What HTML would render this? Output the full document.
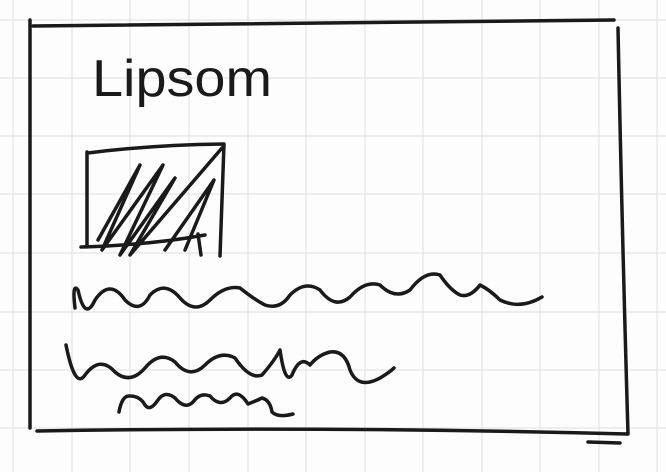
<!DOCTYPE html>
<html><head><meta charset="utf-8"><style>
html,body{margin:0;padding:0;background:#fff}
svg{display:block}
</style></head><body>
<svg width="666" height="472" viewBox="0 0 666 472">
<rect width="666" height="472" fill="#fdfdfd"/>
<g stroke="#e0e0e0" stroke-width="1">
<line x1="0" y1="78" x2="666" y2="78"/><line x1="0" y1="136" x2="666" y2="136"/>
<line x1="0" y1="194" x2="666" y2="194"/><line x1="0" y1="253" x2="666" y2="253"/>
<line x1="0" y1="312" x2="666" y2="312"/><line x1="0" y1="370" x2="666" y2="370"/>
<line x1="0" y1="428" x2="666" y2="428"/><line x1="0" y1="20" x2="666" y2="20"/>
<line x1="13" y1="0" x2="13" y2="472"/><line x1="72" y1="0" x2="72" y2="472"/>
<line x1="130" y1="0" x2="130" y2="472"/><line x1="189" y1="0" x2="189" y2="472"/>
<line x1="248" y1="0" x2="248" y2="472"/><line x1="306" y1="0" x2="306" y2="472"/>
<line x1="365" y1="0" x2="365" y2="472"/><line x1="423" y1="0" x2="423" y2="472"/>
<line x1="482" y1="0" x2="482" y2="472"/><line x1="540" y1="0" x2="540" y2="472"/>
<line x1="599" y1="0" x2="599" y2="472"/><line x1="657" y1="0" x2="657" y2="472"/>
</g>
<g fill="none" stroke="#1a1a1a" stroke-width="3.5" stroke-linecap="round" stroke-linejoin="round">
<path d="M33 26 Q300 22 614 20"/>
<path d="M30 20 L30 428"/>
<path d="M618 28 Q622 230 628 434"/>
<path d="M37 431 Q330 426 627 434 M588 442 L620 443"/>
<g>
<path d="M87 152 L87 247 M88 153 Q150 145 223 144 M224 144 L220 256 M81 247 Q150 245 205 235 M198 234 L201 255"/>
<path d="M98 240 L140 165 L102 250 L163 165 L120 255 L175 178 L130 255 L222 148 M165 250 L214 180 L185 250"/>
</g>
<path d="M75 308 Q72 282 78 290 Q85 322 95 300 Q110 278 125 300 Q140 315 150 295 Q165 280 180 298 Q195 315 210 300 Q225 285 240 288 Q255 300 265 305 Q280 310 290 295 Q305 280 320 290 Q335 310 350 297 Q365 280 380 285 Q395 300 410 290 Q425 270 440 275 Q450 290 460 295 Q470 298 480 285 Q490 290 500 300 Q520 310 542 297"/>
<path d="M66 345 Q75 390 85 375 Q100 355 115 372 Q130 385 145 368 Q160 350 175 362 Q190 380 205 365 Q220 350 235 358 Q250 380 262 375 Q275 360 280 350 Q285 385 292 375 Q300 355 310 365 Q318 355 330 352 Q345 350 350 370 Q358 390 380 378 Q390 372 394 368"/>
<path d="M119 412 Q122 395 130 396 Q140 396 145 405 Q150 412 158 400 Q165 390 175 398 Q185 410 193 402 Q200 392 210 396 Q220 408 230 398 Q238 388 248 404 Q258 400 262 398 Q270 400 272 412 Q278 418 293 414"/>
</g>
<text x="92" y="96" font-family="'Liberation Sans', sans-serif" font-size="52" textLength="180" lengthAdjust="spacingAndGlyphs" fill="#1a1a1a">Lipsom</text>
</svg>
</body></html>
